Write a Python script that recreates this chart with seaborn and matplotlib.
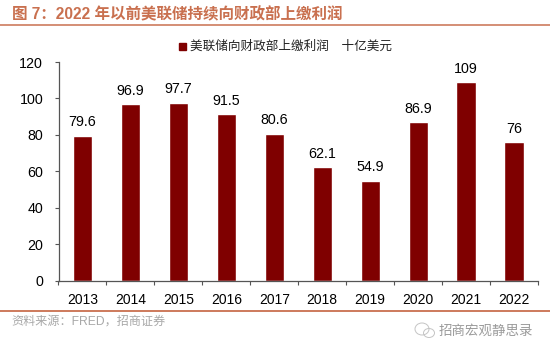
import matplotlib
matplotlib.use("Agg")
import matplotlib.pyplot as plt
from matplotlib.lines import Line2D
from matplotlib.patches import Ellipse, Rectangle
import pandas as pd
import seaborn as sns

years = ["2013", "2014", "2015", "2016", "2017", "2018", "2019", "2020", "2021", "2022"]
values = [79.6, 96.9, 97.7, 91.5, 80.6, 62.1, 54.9, 86.9, 109, 76]
value_labels = ["79.6", "96.9", "97.7", "91.5", "80.6", "62.1", "54.9", "86.9", "109", "76"]
yticks = [0, 20, 40, 60, 80, 100, 120]

title_text = "图 7\uff1a2022 年以前美联储持续向财政部上缴利润"
legend_text = "美联储向财政部上缴利润\u3000十亿美元"
source_text = "资料来源\uff1aFRED\uff0c招商证券"
mark_text = "招商宏观静思录"

W, H = 550, 351
bar_color = "#7F0000"
accent = "#C9704F"

sns.set_theme(style="white")
plt.rcParams["font.family"] = ["Liberation Sans", "Noto Sans CJK SC", "DejaVu Sans"]

df = pd.DataFrame({"year": years, "value": values})

fig = plt.figure(figsize=(W / 100, H / 100), dpi=100)
ax = fig.add_axes([58.5 / W, 1 - 280.5 / H, (538 - 58.5) / W, (280.5 - 62) / H])

sns.barplot(data=df, x="year", y="value", color=bar_color, saturation=1, width=0.4, ax=ax)

ax.set_xlim(-0.5, 9.5)
ax.set_ylim(0, 120)
ax.set_yticks(yticks)
ax.set_xlabel("")
ax.set_ylabel("")
ax.set_facecolor("none")

for s in ["top", "right"]:
    ax.spines[s].set_visible(False)
for s in ["left", "bottom"]:
    ax.spines[s].set_color("#555555")
    ax.spines[s].set_linewidth(0.9)

# ticks sit between the bars on x
ax.set_xticks([i - 0.5 for i in range(11)], minor=True)
ax.tick_params(axis="x", which="major", length=0, labelsize=10, pad=9, colors="black")
ax.tick_params(axis="x", which="minor", length=3, width=0.8, color="#555555", direction="out", bottom=True)
ax.tick_params(axis="y", length=3, width=0.8, labelsize=10.3, pad=8, left=True, colors="black")
ax.tick_params(axis="y", color="#555555")

for i, (v, t) in enumerate(zip(values, value_labels)):
    ax.annotate(t, (i, v), xytext=(0, 4.5), textcoords="offset points", ha="center", va="bottom",
                fontsize=10.3, color="black")

fig.text(12 / W, 1 - 15 / H, title_text, fontsize=11.2, fontweight="bold", color=accent, va="center", ha="left")
fig.add_artist(Line2D([0, 1], [1 - 24.5 / H] * 2, color=accent, lw=1.1))
fig.add_artist(Line2D([0, 1], [1 - 310.5 / H] * 2, color=accent, lw=1.3))

# legend
fig.add_artist(Rectangle((179 / W, 1 - 50 / H), 7 / W, 7 / H, color=bar_color, transform=fig.transFigure))
fig.text(190 / W, 1 - 46.5 / H, legend_text, fontsize=9.1, color="#222222", va="center", ha="left")

fig.text(11.5 / W, 1 - 322 / H, source_text, fontsize=8.7, color="#A8A8A8", va="center", ha="left")

# wechat mark
for cx, cy, w_, h_ in [(422, 329, 14, 12), (429, 333, 11, 9)]:
    fig.add_artist(Ellipse((cx / W, 1 - cy / H), w_ / W, h_ / H, fill=False, ec="#C4C4C4", lw=0.7,
                           transform=fig.transFigure))
fig.text(438.5 / W, 1 - 331 / H, mark_text, fontsize=9.7, color="#9A9A9A", va="center", ha="left")

fig.savefig("out.png", dpi=100)
